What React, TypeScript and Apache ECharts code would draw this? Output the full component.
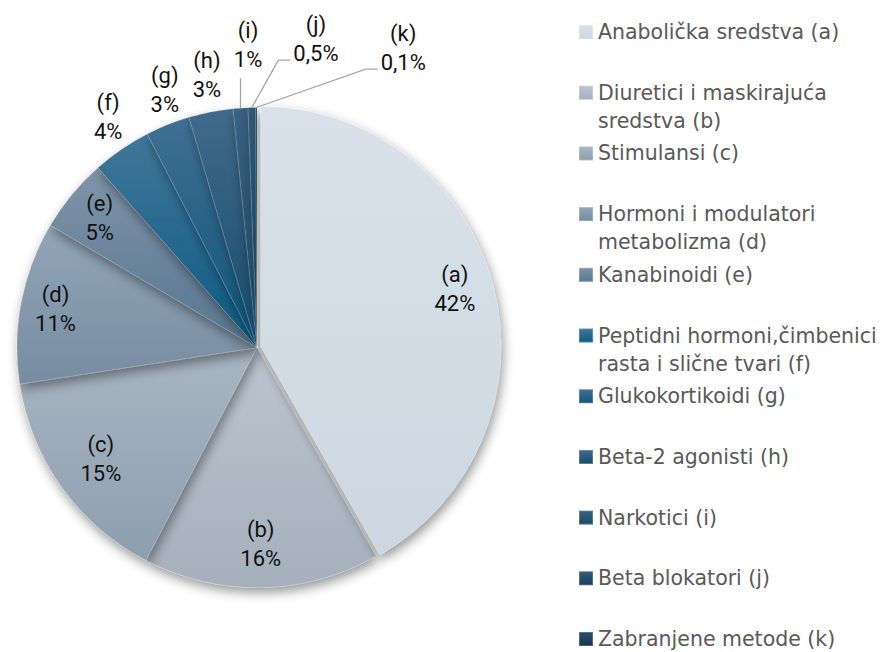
import React, { useEffect, useRef } from "react";
import * as echarts from "echarts";

// ---- data ----
const categories = [
  "Anabolička sredstva (a)",
  "Diuretici i maskirajuća\nsredstva (b)",
  "Stimulansi (c)",
  "Hormoni i modulatori\nmetabolizma (d)",
  "Kanabinoidi (e)",
  "Peptidni hormoni,čimbenici\nrasta i slične tvari (f)",
  "Glukokortikoidi (g)",
  "Beta-2 agonisti (h)",
  "Narkotici (i)",
  "Beta blokatori (j)",
  "Zabranjene metode (k)",
];
const values = [42, 16, 15, 11, 5, 4, 3, 3, 1, 0.5, 0.1];

// ---- styles ----
const sliceColors: [string, string][] = [
  ["#d9e2ea", "#ccd7e1"],
  ["#bcc5cf", "#a5b0bc"],
  ["#a9b6c3", "#8d9eae"],
  ["#93a6b8", "#778ca1"],
  ["#7f95a9", "#587590"],
  ["#41769a", "#0c5b82"],
  ["#3f7094", "#0f5479"],
  ["#416a8a", "#174b6b"],
  ["#3a6282", "#1a4765"],
  ["#33597a", "#17405c"],
  ["#2c4e6b", "#123650"],
];
// label placement: radial factor of radius, optional angle override (deg, clockwise from top)
const labelPlacement: { r: number; a?: number; line?: string }[] = [
  { r: 0.86, a: 73.5 },
  { r: 0.82 },
  { r: 0.8 },
  { r: 0.855 },
  { r: 0.85 },
  { r: 1.145, a: 327.2 },
  { r: 1.14, a: 340.3 },
  { r: 1.156, a: 349.6 },
  { r: 1.26, a: 358.3, line: "vertical" },
  { r: 1.31, a: 10.8, line: "elbow" },
  { r: 1.39, a: 26, line: "elbow" },
];

const LABEL_FONT = "Roboto, 'Open Sans', sans-serif";
const LEGEND_FONT = "'DejaVu Sans', 'Open Sans', sans-serif";
const CX = 257;
const CY = 347.5;
const R = 240;

export default function App() {
  const ref = useRef<HTMLDivElement>(null);
  useEffect(() => {
    if (!ref.current) return;
    const chart = echarts.init(ref.current, null, { renderer: "svg" });
    const total = values.reduce((s, v) => s + v, 0);
    const mids: number[] = [];
    let cum = 0;
    values.forEach((v) => {
      mids.push(((cum + v / 2) / total) * 360);
      cum += v;
    });
    const polar = (r: number, deg: number) => {
      const t = (deg * Math.PI) / 180;
      return [CX + r * Math.sin(t), CY - r * Math.cos(t)];
    };
    const letter = (n: string) => {
      const m = n.match(/\((\w)\)\s*$/);
      return m ? `(${m[1]})` : n;
    };
    const fmtPct = (v: number) => String(v).replace(".", ",") + "%";

    const sliceData = categories.map((name, i) => ({
      name,
      value: values[i],
      selected: i === 0,
      itemStyle: {
        color: new echarts.graphic.LinearGradient(0, 0, 0, 1, [
          { offset: 0, color: sliceColors[i][0] },
          { offset: 1, color: sliceColors[i][1] },
        ]),
      },
    }));
    const labelData = categories.map((name, i) => ({
      name,
      value: values[i],
      labelLine: { show: !!labelPlacement[i].line },
    }));

    const LINE_H = 28;
    const legends = categories.map((name, i) => {
      const twoLine = name.includes("\n");
      const firstY = 32 + i * 60.7;
      return {
        data: [name],
        orient: "vertical",
        left: 578,
        top: firstY - (twoLine ? LINE_H * 1.5 : LINE_H / 2),
        padding: 0,
        itemWidth: 14,
        itemHeight: 14,
        icon: "rect",
        selectedMode: false,
        formatter: (n: string) => (n.includes("\n") ? "\n" + n : n),
        textStyle: {
          fontSize: 20.5,
          fontFamily: LEGEND_FONT,
          color: "#595959",
          lineHeight: LINE_H,
        },
      };
    });

    chart.setOption({
      animation: false,
      backgroundColor: "#ffffff",
      legend: legends,
      series: [
        {
          type: "pie",
          z: 2,
          center: [CX, CY],
          radius: R,
          startAngle: 90,
          clockwise: true,
          selectedMode: "single",
          selectedOffset: 4,
          silent: true,
          itemStyle: {
            borderColor: "rgba(255,255,255,0.22)",
            borderWidth: 0.5,
            shadowBlur: 12,
            shadowColor: "rgba(0,0,0,0.42)",
            shadowOffsetX: 2,
            shadowOffsetY: 5,
          },
          label: { show: false },
          labelLine: { show: false },
          data: sliceData,
        },
        {
          type: "pie",
          z: 6,
          center: [CX, CY],
          radius: R,
          startAngle: 90,
          clockwise: true,
          silent: true,
          avoidLabelOverlap: false,
          itemStyle: { color: "rgba(0,0,0,0)", borderWidth: 0 },
          label: {
            show: true,
            position: "outside",
            formatter: (p: any) => `${letter(p.name)}\n${fmtPct(p.value)}`,
            fontSize: 22,
            lineHeight: 29,
            fontFamily: LABEL_FONT,
            color: "#111111",
            align: "center",
          },
          labelLine: {
            show: false,
            lineStyle: { color: "#a6a6a6", width: 1.3 },
            smooth: false,
          },
          labelLayout: (p: any) => {
            const i = p.dataIndex;
            const pl = labelPlacement[i];
            const ang = pl.a !== undefined ? pl.a : mids[i];
            const [x, y] = polar(pl.r * R, ang);
            const w = p.labelRect.width;
            const h = p.labelRect.height;
            const res: any = { x, y, align: "center", verticalAlign: "middle" };
            if (pl.line) {
              const [ex, ey] = polar(R, mids[i]);
              if (pl.line === "vertical") {
                const endY = y + h / 2 + 4;
                res.labelLinePoints = [
                  [ex, ey],
                  [ex, (ey + endY) / 2],
                  [ex, endY],
                ];
              } else {
                const endX = x - w / 2 - 3;
                const endY = y + 14.5 + 7;
                res.labelLinePoints = [
                  [ex, ey],
                  [endX - 12, endY],
                  [endX, endY],
                ];
              }
            }
            return res;
          },
          data: labelData,
        },
      ],
    });
    return () => chart.dispose();
  }, []);
  return (
    <div
      ref={ref}
      style={{ position: "fixed", left: 0, top: 0, width: 888, height: 652 }}
    />
  );
}
